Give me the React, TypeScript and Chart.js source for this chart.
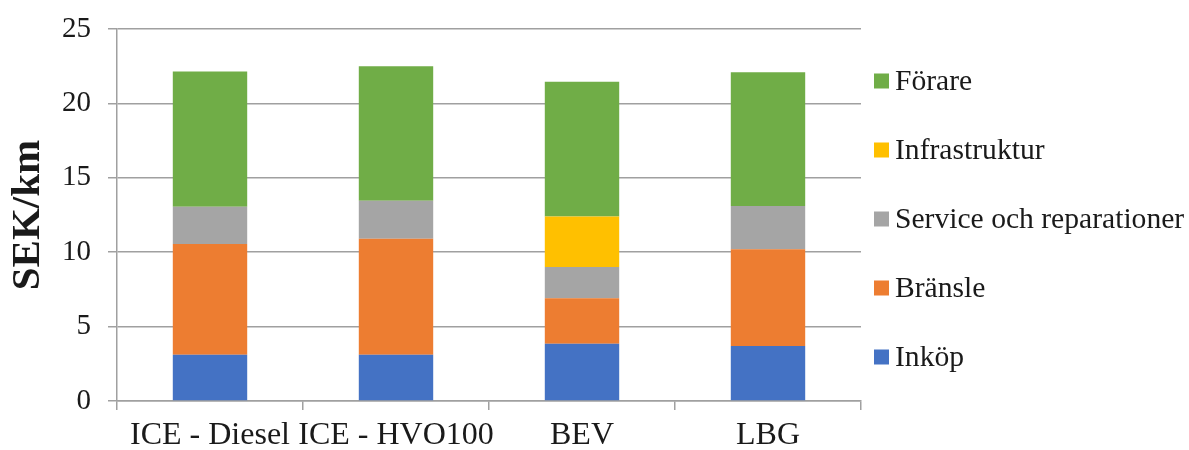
import React, { useEffect, useRef } from 'react';
import { Chart, registerables } from 'chart.js';

Chart.register(...registerables);

// Cost per km by drivetrain, split by cost component (SEK/km)
const categories = ['ICE - Diesel', 'ICE - HVO100', 'BEV', 'LBG'];
const inkop = [3.1, 3.1, 3.85, 3.7];
const bransle = [7.45, 7.8, 3.05, 6.5];
const service = [2.5, 2.55, 2.1, 2.9];
const infrastruktur = [0, 0, 3.4, 0];
const forare = [9.1, 9.05, 9.05, 9.0];

const seriesNames = ['Inköp', 'Bränsle', 'Service och reparationer', 'Infrastruktur', 'Förare'];
const seriesColors = ['#4472C4', '#ED7D31', '#A5A5A5', '#FFC000', '#70AD47'];
const yAxisTitle = 'SEK/km';
const yMin = 0;
const yMax = 25;
const yStep = 5;

const SERIF = "'Liberation Serif', 'Times New Roman', serif";
const TEXT = '#1a1a1a';
const GRID = '#a0a0a0';

// Legend listed top-down in reverse stacking order, drawn to the right of the plot
const sideLegend = {
  id: 'sideLegend',
  afterDraw(chart: any) {
    const { ctx, chartArea } = chart;
    const ds = chart.data.datasets;
    const midY = (chartArea.top + chartArea.bottom) / 2;
    const step = 69;
    const boxX = chartArea.right + 13;
    const box = 15;
    ctx.save();
    ctx.font = `29.6px ${SERIF}`;
    ctx.textAlign = 'left';
    ctx.textBaseline = 'alphabetic';
    for (let k = 0; k < ds.length; k++) {
      const d = ds[ds.length - 1 - k];
      const cy = midY + 4 + (k - (ds.length - 1) / 2) * step;
      ctx.fillStyle = d.backgroundColor;
      ctx.fillRect(boxX, cy - box / 2, box, box);
      ctx.fillStyle = TEXT;
      ctx.fillText(d.label, boxX + 21, cy + 9);
    }
    ctx.restore();
  },
};

export default function App() {
  const canvasRef = useRef<HTMLCanvasElement | null>(null);

  useEffect(() => {
    const values = [inkop, bransle, service, infrastruktur, forare];
    const chart = new Chart(canvasRef.current as HTMLCanvasElement, {
      type: 'bar',
      data: {
        labels: categories,
        datasets: values.map((v, i) => ({
          label: seriesNames[i],
          data: v,
          backgroundColor: seriesColors[i],
          borderWidth: 0,
          barPercentage: 0.4,
          categoryPercentage: 1.0,
        })),
      },
      options: {
        animation: false,
        responsive: true,
        maintainAspectRatio: false,
        layout: { padding: { top: 29, right: 328, bottom: 0, left: 0 } },
        plugins: {
          legend: { display: false },
          tooltip: { enabled: false },
        },
        scales: {
          x: {
            stacked: true,
            grid: {
              display: true,
              drawOnChartArea: false,
              drawTicks: true,
              tickLength: 9,
              color: GRID,
              lineWidth: 1.5,
              offset: true,
            },
            border: { display: true, color: GRID, width: 1.5 },
            ticks: {
              color: TEXT,
              font: { family: SERIF, size: 32 },
              padding: 6,
              maxRotation: 0,
              autoSkip: false,
            },
            afterFit(scale: any) {
              scale.height = 49;
            },
          },
          y: {
            stacked: true,
            min: yMin,
            max: yMax,
            grid: {
              color: GRID,
              lineWidth: 1.5,
              drawTicks: true,
              tickLength: 9,
            },
            border: { display: true, color: GRID, width: 1.5 },
            ticks: {
              stepSize: yStep,
              color: TEXT,
              font: { family: SERIF, size: 29 },
              padding: 17,
            },
            title: {
              display: true,
              text: yAxisTitle,
              color: TEXT,
              font: { family: SERIF, size: 41, weight: 'bold' },
              padding: { top: 4, bottom: 0 },
            },
            afterFit(scale: any) {
              scale.width = 117;
              scale.paddingTop = 0;
              scale.paddingBottom = 0;
            },
          },
        },
      },
      plugins: [sideLegend],
    } as any);
    return () => chart.destroy();
  }, []);

  return (
    <div style={{ position: 'absolute', left: 0, top: 0, width: 1189, height: 450, background: '#fff' }}>
      <canvas ref={canvasRef} />
    </div>
  );
}
